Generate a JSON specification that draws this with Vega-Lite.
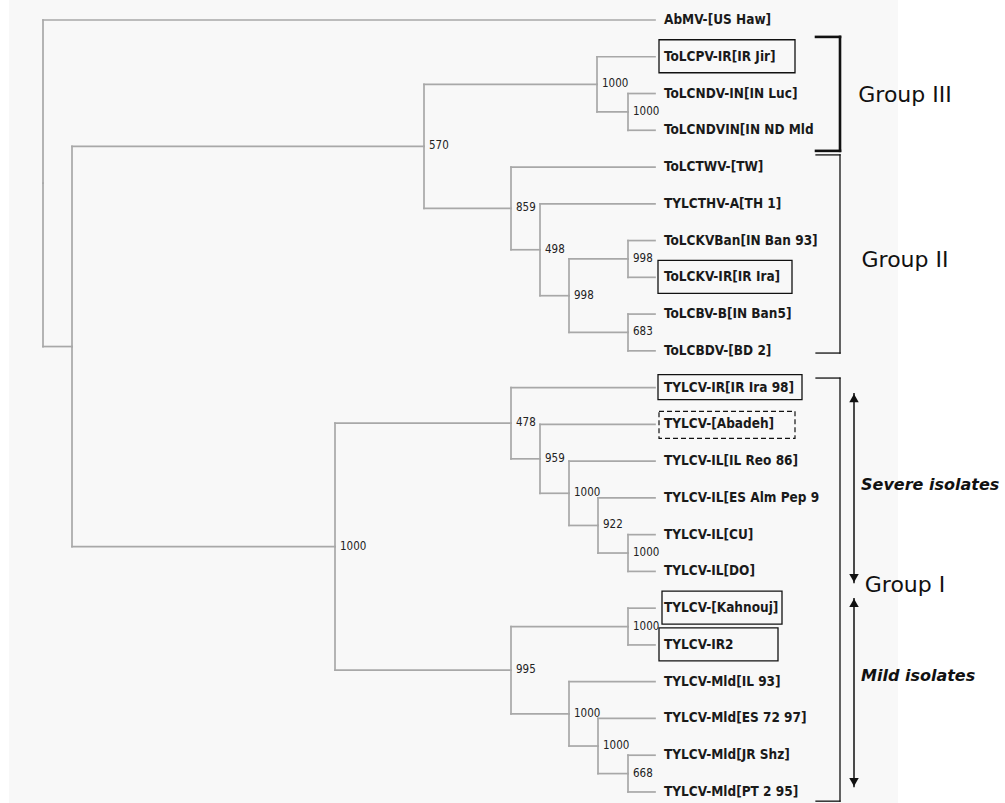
{
  "$schema": "https://vega.github.io/schema/vega-lite/v6.json",
  "width": 1005,
  "height": 803,
  "autosize": {"type": "none"},
  "padding": 0,
  "background": "#ffffff",
  "config": {"view": {"stroke": null}, "axis": {"disable": true}},
  "datasets": {
    "nodes": [
      {"id": "root", "parent": null, "x": 43, "y": 5.44},
      {"id": "A", "parent": "root", "x": 72, "y": 9.883},
      {"id": "B", "parent": "A", "x": 424, "y": 4.4375, "boot": 570},
      {"id": "C", "parent": "A", "x": 335, "y": 15.328, "boot": 1000},
      {"id": "D", "parent": "B", "x": 597, "y": 2.75, "boot": 1000},
      {"id": "E", "parent": "B", "x": 511, "y": 6.125, "boot": 859},
      {"id": "F", "parent": "D", "x": 628, "y": 3.5, "boot": 1000},
      {"id": "G", "parent": "E", "x": 540, "y": 7.25, "boot": 498},
      {"id": "H", "parent": "G", "x": 569, "y": 8.5, "boot": 998},
      {"id": "I", "parent": "H", "x": 628, "y": 7.5, "boot": 998},
      {"id": "J", "parent": "H", "x": 628, "y": 9.5, "boot": 683},
      {"id": "K", "parent": "C", "x": 511, "y": 11.96875, "boot": 478},
      {"id": "L", "parent": "C", "x": 511, "y": 18.6875, "boot": 995},
      {"id": "M", "parent": "K", "x": 540, "y": 12.9375, "boot": 959},
      {"id": "N", "parent": "M", "x": 569, "y": 13.875, "boot": 1000},
      {"id": "O", "parent": "N", "x": 598, "y": 14.75, "boot": 922},
      {"id": "P", "parent": "O", "x": 628, "y": 15.5, "boot": 1000},
      {"id": "Q", "parent": "L", "x": 628, "y": 17.5, "boot": 1000},
      {"id": "R", "parent": "L", "x": 569, "y": 19.875, "boot": 1000},
      {"id": "S", "parent": "R", "x": 598, "y": 20.75, "boot": 1000},
      {"id": "T", "parent": "S", "x": 628, "y": 21.5, "boot": 668},
      {"id": "AbMV-[US Haw]", "parent": "root", "x": 655, "y": 1, "leaf": true},
      {"id": "ToLCPV-IR[IR Jir]", "parent": "D", "x": 655, "y": 2, "leaf": true},
      {"id": "ToLCNDV-IN[IN Luc]", "parent": "F", "x": 655, "y": 3, "leaf": true},
      {"id": "ToLCNDVIN[IN ND Mld 93]", "parent": "F", "x": 655, "y": 4, "leaf": true},
      {"id": "ToLCTWV-[TW]", "parent": "E", "x": 655, "y": 5, "leaf": true},
      {"id": "TYLCTHV-A[TH 1]", "parent": "G", "x": 655, "y": 6, "leaf": true},
      {"id": "ToLCKVBan[IN Ban 93]", "parent": "I", "x": 655, "y": 7, "leaf": true},
      {"id": "ToLCKV-IR[IR Ira]", "parent": "I", "x": 655, "y": 8, "leaf": true},
      {"id": "ToLCBV-B[IN Ban5]", "parent": "J", "x": 655, "y": 9, "leaf": true},
      {"id": "ToLCBDV-[BD 2]", "parent": "J", "x": 655, "y": 10, "leaf": true},
      {"id": "TYLCV-IR[IR Ira 98]", "parent": "K", "x": 655, "y": 11, "leaf": true},
      {"id": "TYLCV-[Abadeh]", "parent": "M", "x": 655, "y": 12, "leaf": true},
      {"id": "TYLCV-IL[IL Reo 86]", "parent": "N", "x": 655, "y": 13, "leaf": true},
      {"id": "TYLCV-IL[ES Alm Pep 99]", "parent": "O", "x": 655, "y": 14, "leaf": true},
      {"id": "TYLCV-IL[CU]", "parent": "P", "x": 655, "y": 15, "leaf": true},
      {"id": "TYLCV-IL[DO]", "parent": "P", "x": 655, "y": 16, "leaf": true},
      {"id": "TYLCV-[Kahnouj]", "parent": "Q", "x": 655, "y": 17, "leaf": true},
      {"id": "TYLCV-IR2", "parent": "Q", "x": 655, "y": 18, "leaf": true},
      {"id": "TYLCV-Mld[IL 93]", "parent": "R", "x": 655, "y": 19, "leaf": true},
      {"id": "TYLCV-Mld[ES 72 97]", "parent": "S", "x": 655, "y": 20, "leaf": true},
      {"id": "TYLCV-Mld[JR Shz]", "parent": "T", "x": 655, "y": 21, "leaf": true},
      {"id": "TYLCV-Mld[PT 2 95]", "parent": "T", "x": 655, "y": 22, "leaf": true}
    ],
    "boxes": [
      {"leaf": "ToLCPV-IR[IR Jir]", "y": 2, "from": 659, "to": 795},
      {"leaf": "ToLCKV-IR[IR Ira]", "y": 8, "from": 658, "to": 792},
      {"leaf": "TYLCV-IR[IR Ira 98]", "y": 11, "from": 658, "to": 802},
      {"leaf": "TYLCV-[Abadeh]", "y": 12, "from": 659, "to": 795},
      {"leaf": "TYLCV-[Kahnouj]", "y": 17, "from": 662, "to": 782},
      {"leaf": "TYLCV-IR2", "y": 18, "from": 659, "to": 778}
    ],
    "groups": [
      {"group": "Group III", "start": 1.46, "end": 4.56, "mid": 3.04},
      {"group": "Group II", "start": 4.67, "end": 10.06, "mid": 7.53},
      {"group": "Group I", "start": 10.74, "end": 22.25, "mid": 16.37}
    ],
    "subgroups": [
      {"name": "Severe isolates", "start": 11.15, "end": 16.32, "mid": 13.65},
      {"name": "Mild isolates", "start": 16.72, "end": 21.87, "mid": 18.85}
    ]
  },
  "layer": [
    {
      "data": {"values": [{"region": "tree panel"}]},
      "mark": {"type": "rect", "color": "#f8f8f8"},
      "encoding": {
        "x": {"datum": 9, "type": "quantitative", "scale": {"domain": [0, 1005], "nice": false, "zero": false}},
        "x2": {"datum": 898},
        "y": {"datum": 0.456, "type": "quantitative", "scale": {"domain": [0.456, 22.3], "reverse": true, "nice": false, "zero": false}},
        "y2": {"datum": 22.3}
      }
    },
    {
      "data": {"name": "nodes"},
      "transform": [
        {"filter": "datum.parent != null"},
        {"lookup": "parent", "from": {"data": {"name": "nodes"}, "key": "id", "fields": ["x", "y"]}, "as": ["px", "py"]}
      ],
      "layer": [
        {
          "mark": {"type": "rule", "color": "#a8a8a8", "strokeWidth": 1.7, "strokeCap": "square"},
          "encoding": {
            "x": {"field": "px", "type": "quantitative"},
            "x2": {"field": "x"},
            "y": {"field": "y", "type": "quantitative"}
          }
        },
        {
          "mark": {"type": "rule", "color": "#a8a8a8", "strokeWidth": 1.7, "strokeCap": "square"},
          "encoding": {
            "x": {"field": "px", "type": "quantitative"},
            "y": {"field": "py", "type": "quantitative"},
            "y2": {"field": "y"}
          }
        }
      ]
    },
    {
      "data": {"name": "nodes"},
      "transform": [{"filter": "isValid(datum.boot)"}],
      "mark": {"type": "text", "align": "left", "baseline": "middle", "dx": 5, "font": "DejaVu Sans Condensed, Liberation Sans, sans-serif", "fontSize": 11.5, "color": "#222222"},
      "encoding": {
        "x": {"field": "x", "type": "quantitative"},
        "y": {"field": "y", "type": "quantitative"},
        "text": {"field": "boot"}
      }
    },
    {
      "data": {"name": "nodes"},
      "transform": [{"filter": "datum.leaf === true"}],
      "mark": {"type": "text", "align": "left", "baseline": "middle", "dx": 9, "font": "DejaVu Sans Condensed, Liberation Sans, sans-serif", "fontWeight": "bold", "fontSize": 13.5, "color": "#1a1a1a", "limit": 163, "ellipsis": " "},
      "encoding": {
        "x": {"field": "x", "type": "quantitative"},
        "y": {"field": "y", "type": "quantitative"},
        "text": {"field": "id"}
      }
    },
    {
      "data": {"name": "boxes"},
      "transform": [{"filter": "datum.leaf !== 'TYLCV-IR[IR Ira 98]' && datum.leaf !== 'TYLCV-[Abadeh]'"}],
      "mark": {"type": "rect", "filled": false, "stroke": "#111111", "strokeWidth": 1.3, "yOffset": -17, "y2Offset": 16},
      "encoding": {
        "x": {"field": "from", "type": "quantitative"},
        "x2": {"field": "to"},
        "y": {"field": "y", "type": "quantitative"},
        "y2": {"field": "y"}
      }
    },
    {
      "data": {"name": "boxes"},
      "transform": [{"filter": "datum.leaf === 'TYLCV-IR[IR Ira 98]'"}],
      "mark": {"type": "rect", "filled": false, "stroke": "#111111", "strokeWidth": 1.3, "yOffset": -13, "y2Offset": 12},
      "encoding": {
        "x": {"field": "from", "type": "quantitative"},
        "x2": {"field": "to"},
        "y": {"field": "y", "type": "quantitative"},
        "y2": {"field": "y"}
      }
    },
    {
      "data": {"name": "boxes"},
      "transform": [{"filter": "datum.leaf === 'TYLCV-[Abadeh]'"}],
      "mark": {"type": "rect", "filled": false, "stroke": "#111111", "strokeWidth": 1.2, "strokeDash": [5, 3], "yOffset": -13, "y2Offset": 14},
      "encoding": {
        "x": {"field": "from", "type": "quantitative"},
        "x2": {"field": "to"},
        "y": {"field": "y", "type": "quantitative"},
        "y2": {"field": "y"}
      }
    },
    {
      "data": {"name": "groups"},
      "layer": [
        {
          "mark": {"type": "rule", "color": "#111111", "strokeCap": "square"},
          "encoding": {
            "x": {"datum": 840, "type": "quantitative"},
            "y": {"field": "start", "type": "quantitative"},
            "y2": {"field": "end"},
            "strokeWidth": {"condition": {"test": "datum.group === 'Group III'", "value": 2.6}, "value": 1.3}
          }
        },
        {
          "mark": {"type": "rule", "color": "#111111", "strokeCap": "square"},
          "encoding": {
            "x": {"datum": 816, "type": "quantitative"},
            "x2": {"datum": 840},
            "y": {"field": "start", "type": "quantitative"},
            "strokeWidth": {"condition": {"test": "datum.group === 'Group III'", "value": 2.6}, "value": 1.3}
          }
        },
        {
          "mark": {"type": "rule", "color": "#111111", "strokeCap": "square"},
          "encoding": {
            "x": {"datum": 816, "type": "quantitative"},
            "x2": {"datum": 840},
            "y": {"field": "end", "type": "quantitative"},
            "strokeWidth": {"condition": {"test": "datum.group === 'Group III'", "value": 2.6}, "value": 1.3}
          }
        },
        {
          "mark": {"type": "text", "align": "center", "baseline": "middle", "font": "DejaVu Sans", "fontSize": 22, "color": "#111111"},
          "encoding": {
            "x": {"datum": 905, "type": "quantitative"},
            "y": {"field": "mid", "type": "quantitative"},
            "text": {"field": "group"}
          }
        }
      ]
    },
    {
      "data": {"name": "subgroups"},
      "layer": [
        {
          "mark": {"type": "rule", "color": "#111111", "strokeWidth": 1.5},
          "encoding": {
            "x": {"datum": 854, "type": "quantitative"},
            "y": {"field": "start", "type": "quantitative"},
            "y2": {"field": "end"}
          }
        },
        {
          "mark": {"type": "point", "shape": "triangle-up", "filled": true, "color": "#111111", "size": 90, "yOffset": 5, "opacity": 1},
          "encoding": {
            "x": {"datum": 854, "type": "quantitative"},
            "y": {"field": "start", "type": "quantitative"}
          }
        },
        {
          "mark": {"type": "point", "shape": "triangle-down", "filled": true, "color": "#111111", "size": 90, "yOffset": -5, "opacity": 1},
          "encoding": {
            "x": {"datum": 854, "type": "quantitative"},
            "y": {"field": "end", "type": "quantitative"}
          }
        },
        {
          "mark": {"type": "text", "align": "left", "baseline": "middle", "font": "DejaVu Sans", "fontStyle": "italic", "fontWeight": "bold", "fontSize": 16, "color": "#111111"},
          "encoding": {
            "x": {"datum": 861, "type": "quantitative"},
            "y": {"field": "mid", "type": "quantitative"},
            "text": {"field": "name"}
          }
        }
      ]
    }
  ]
}
